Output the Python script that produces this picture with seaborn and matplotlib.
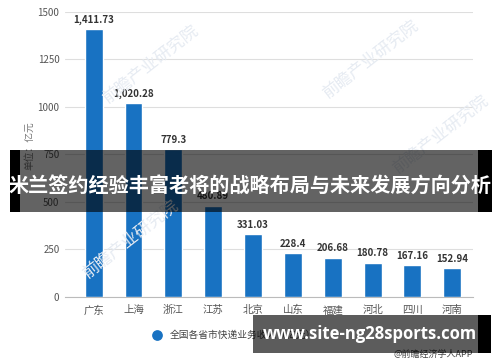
import matplotlib
matplotlib.use("Agg")
import matplotlib.pyplot as plt
import seaborn as sns
import pandas as pd
from matplotlib.patches import Rectangle

provinces = ["广东", "上海", "浙江", "江苏", "北京", "山东", "福建", "河北", "四川", "河南"]
revenue = [1411.73, 1020.28, 779.3, 480.89, 331.03, 228.4, 206.68, 180.78, 167.16, 152.94]
value_labels = ["1,411.73", "1,020.28", "779.3", "480.89", "331.03", "228.4", "206.68", "180.78", "167.16", "152.94"]
y_ticks = [0, 250, 500, 750, 1000, 1250, 1500]
legend_label = "全国各省市快递业务收入（亿元）"
y_label = "单位：亿元"
banner_title = "米兰签约经验丰富老将的战略布局与未来发展方向分析"
site_text = "www.site-ng28sports.com"
source_text = "@前瞻经济学人APP"
watermark = "前瞻产业研究院"

sns.set_theme(style="white")
plt.rcParams['font.family'] = ['Noto Sans CJK SC', 'DejaVu Sans']

df = pd.DataFrame({"province": provinces, "revenue": revenue})

W, H = 500, 362
fig = plt.figure(figsize=(5, 3.62), dpi=100)
ax = fig.add_axes([0.13, 0.18, 0.816, 0.787])
ax.patch.set_alpha(0)

bar_color = "#1872c2"
sns.barplot(data=df, x="province", y="revenue", color=bar_color, width=0.45,
            saturation=1, ax=ax, zorder=3)

ax.set_ylim(0, 1500)
ax.set_xlim(-0.72, 9.52)
ax.set_yticks(y_ticks)
ax.set_yticklabels([str(t) for t in y_ticks], fontsize=7, color="#555555")
ax.tick_params(axis="y", length=0, pad=4)
ax.tick_params(axis="x", length=3, color="#bbbbbb", labelsize=7.5, labelcolor="#555555", pad=3, direction="out")
ax.yaxis.grid(True, color="#dedede", linewidth=0.8, zorder=0)
for s in ["top", "right", "left"]:
    ax.spines[s].set_visible(False)
ax.spines["bottom"].set_color("#bbbbbb")
ax.spines["bottom"].set_linewidth(0.8)
ax.set_xlabel("")
ax.set_ylabel(y_label, fontsize=7, color="#777777")
ax.yaxis.set_label_coords(-0.075, 0.53)

ax.bar_label(ax.containers[0], labels=value_labels, padding=3, fontsize=7,
             fontweight="bold", color="#333333")

# faint watermarks
for (wx, wy) in [(150, 65), (370, 60), (130, 240), (440, 135)]:
    fig.text(wx / W, 1 - wy / H, watermark, fontsize=12, color="#e6ebf2",
             rotation=38, ha="center", va="center", zorder=0)

# legend
ax.scatter([], [], s=45, color=bar_color, label=legend_label)
leg = fig.legend(*ax.get_legend_handles_labels(), loc="center left",
                 bbox_to_anchor=(147 / W, 1 - 335 / H), frameon=False, fontsize=7,
                 handletextpad=0.3, borderaxespad=0, borderpad=0)
for t in leg.get_texts():
    t.set_color("#444444")

def frect(x0, y0, x1, y1, **kw):
    r = Rectangle((x0 / W, 1 - y1 / H), (x1 - x0) / W, (y1 - y0) / H,
                  transform=fig.transFigure, **kw)
    fig.add_artist(r)

# middle banner
frect(10, 150, 20, 212, facecolor="black", edgecolor="none", zorder=10)
frect(478, 150, 492, 212, facecolor="black", edgecolor="none", zorder=10)
frect(20, 150, 478, 212, facecolor="black", alpha=0.61, edgecolor="none", zorder=10)
fig.text(250 / W, 1 - 185 / H, banner_title, fontsize=14.5, fontweight="bold",
         color="white", ha="center", va="center", zorder=11)

# bottom banner
frect(478, 315, 491, 353, facecolor="black", edgecolor="none", zorder=10)
frect(253, 315, 478, 353, facecolor="black", alpha=0.64, edgecolor="none", zorder=10)
fig.text(370 / W, 1 - 334 / H, site_text, fontsize=12, fontweight="bold",
         color="white", ha="center", va="center", zorder=11, family="Open Sans")

fig.text(473 / W, 1 - 354 / H, source_text, fontsize=6.5, color="#444444",
         ha="right", va="center", zorder=5)

fig.savefig("out.png", dpi=100)
